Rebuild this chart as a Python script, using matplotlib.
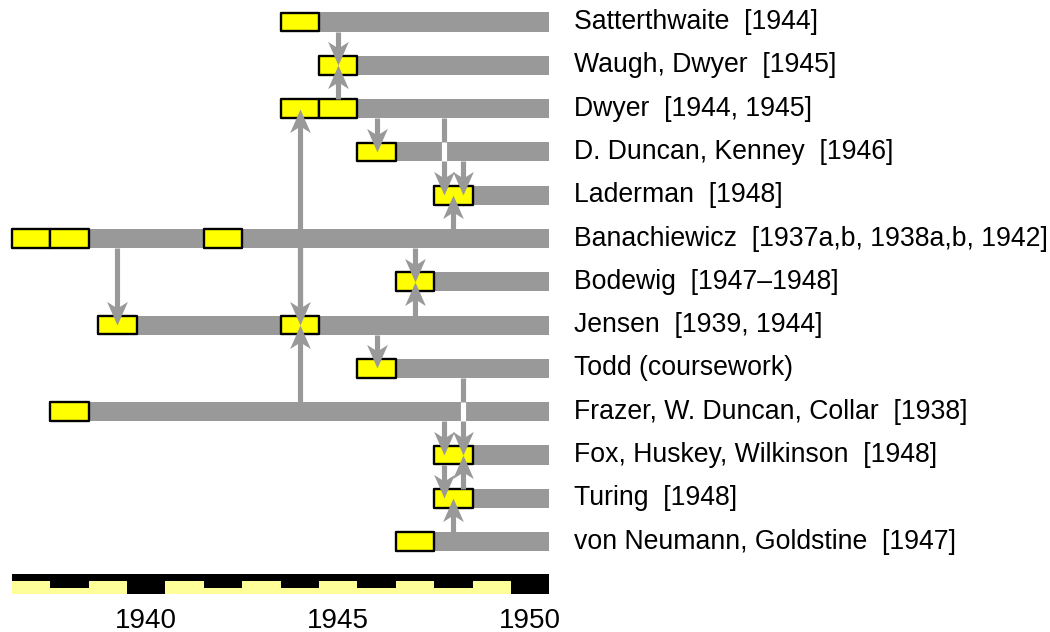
import matplotlib
matplotlib.use("Agg")
import matplotlib.pyplot as plt
from matplotlib.path import Path

# ---------------- data ----------------
labels = [
    "Satterthwaite  [1944]",
    "Waugh, Dwyer  [1945]",
    "Dwyer  [1944, 1945]",
    "D. Duncan, Kenney  [1946]",
    "Laderman  [1948]",
    "Banachiewicz  [1937a,b, 1938a,b, 1942]",
    "Bodewig  [1947\u20131948]",
    "Jensen  [1939, 1944]",
    "Todd (coursework)",
    "Frazer, W. Duncan, Collar  [1938]",
    "Fox, Huskey, Wilkinson  [1948]",
    "Turing  [1948]",
    "von Neumann, Goldstine  [1947]",
]
box_years = [
    [1944], [1945], [1944, 1945], [1946], [1948], [1937, 1938, 1942],
    [1947], [1939.25, 1944], [1946], [1938], [1948], [1948], [1947],
]
# arrows: source row -> destination row at a given year position
arrow_src = [0, 2, 2, 2, 3, 5, 5, 5, 7, 5, 7, 7, 9, 8, 9, 10, 11, 12]
arrow_dst = [1, 1, 3, 4, 4, 4, 7, 7, 2, 6, 6, 8, 7, 10, 10, 11, 10, 11]
arrow_year = [1945, 1945, 1946, 1947.75, 1948.25, 1948, 1939.25, 1944, 1944,
              1947, 1947, 1946, 1944, 1948.25, 1947.75, 1947.75, 1948.25, 1948]
# places where an arrow passes over another bar (drawn as a white gap)
crossing_rows = [3, 9]
crossing_year = [1947.75, 1948.25]
scale_years = list(range(1937, 1951))
tick_years = [1940, 1945, 1950]
end_year = 1950

# ---------------- layout helpers ----------------
W, H = 1050, 632
PX_PER_YEAR = 38.4
X0_PX, X0_YEAR = 31.0, 1937
ROW_PX, ROW0_PX = 43.3, 22.0


def px2year(px):
    return X0_YEAR + (px - X0_PX) / PX_PER_YEAR


def px2row(py):
    return (py - ROW0_PX) / ROW_PX


GRAY = "#999999"
YELLOW = "#ffff00"
PALE = "#ffff99"
BAR_H = 0.44
BOX_H = 0.43
LW_ARROW = 3.7
HEAD_MS = 34

fig = plt.figure(figsize=(W / 100, H / 100), dpi=100)
ax = fig.add_axes([0, 0, 1, 1])
ax.set_xlim(px2year(0), px2year(W))
ax.set_ylim(px2row(H), px2row(0))
ax.axis("off")

right = end_year + 0.5

# bars and boxes
for i, yrs in enumerate(box_years):
    start = min(yrs) - 0.5
    ax.barh(i, right - start, left=start, height=BAR_H, color=GRAY,
            linewidth=0, zorder=1)
    for yv in yrs:
        ax.barh(i, 1.0, left=yv - 0.5, height=BOX_H, color=YELLOW,
                edgecolor="black", linewidth=1.7, zorder=2,
                joinstyle="round")
    ax.text(px2year(574), i, labels[i], ha="left", va="center",
            fontsize=19.2, family=["Liberation Sans", "DejaVu Sans"],
            color="black")

# arrow heads as custom markers (tip at origin)
codes = [Path.MOVETO, Path.LINETO, Path.LINETO, Path.LINETO, Path.CLOSEPOLY]
down_head = Path([(0, 0), (-0.44, 1), (0, 0.72), (0.44, 1), (0, 0)], codes)
up_head = Path([(0, 0), (-0.44, -1), (0, -0.72), (0.44, -1), (0, 0)], codes)
head_len_rows = (HEAD_MS / 2) * (100 / 72) / ROW_PX

for s, d, xv in zip(arrow_src, arrow_dst, arrow_year):
    if d > s:  # downward
        y0 = s + BAR_H / 2
        y1 = d - head_len_rows * 0.5
        mk = down_head
    else:
        y0 = s - BAR_H / 2
        y1 = d + head_len_rows * 0.5
        mk = up_head
    ax.plot([xv, xv], [y0, y1], color=GRAY, lw=LW_ARROW,
            solid_capstyle="butt", zorder=3)
    ax.plot([xv], [d], marker=mk, markersize=HEAD_MS, color=GRAY,
            markeredgewidth=0, linestyle="none", zorder=5)

for r, xv in zip(crossing_rows, crossing_year):
    ax.plot([xv, xv], [r - BAR_H / 2, r + BAR_H / 2], color="white",
            lw=LW_ARROW, solid_capstyle="butt", zorder=4)

# scale bar
top_a, top_b = px2row(574), px2row(581)
mid = px2row(588)
bot = px2row(594)
left = scale_years[0] - 0.5
ax.barh((top_a + top_b) / 2, right - left, left=left, height=top_b - top_a,
        color="black", linewidth=0)
for yv in scale_years:
    if yv % 10 == 0:
        ax.barh((top_b + bot) / 2, 1, left=yv - 0.5, height=bot - top_b,
                color="black", linewidth=0)
    elif yv % 2 == 0:
        ax.barh((top_b + mid) / 2, 1, left=yv - 0.5, height=mid - top_b,
                color="black", linewidth=0)
        ax.barh((mid + bot) / 2, 1, left=yv - 0.5, height=bot - mid,
                color=PALE, linewidth=0)
    else:
        ax.barh((top_b + bot) / 2, 1, left=yv - 0.5, height=bot - top_b,
                color=PALE, linewidth=0)

for yv in tick_years:
    ax.text(yv, px2row(621), str(yv), ha="center", va="center",
            fontsize=20, family=["Liberation Sans", "DejaVu Sans"])

fig.savefig("out.png", dpi=100)
